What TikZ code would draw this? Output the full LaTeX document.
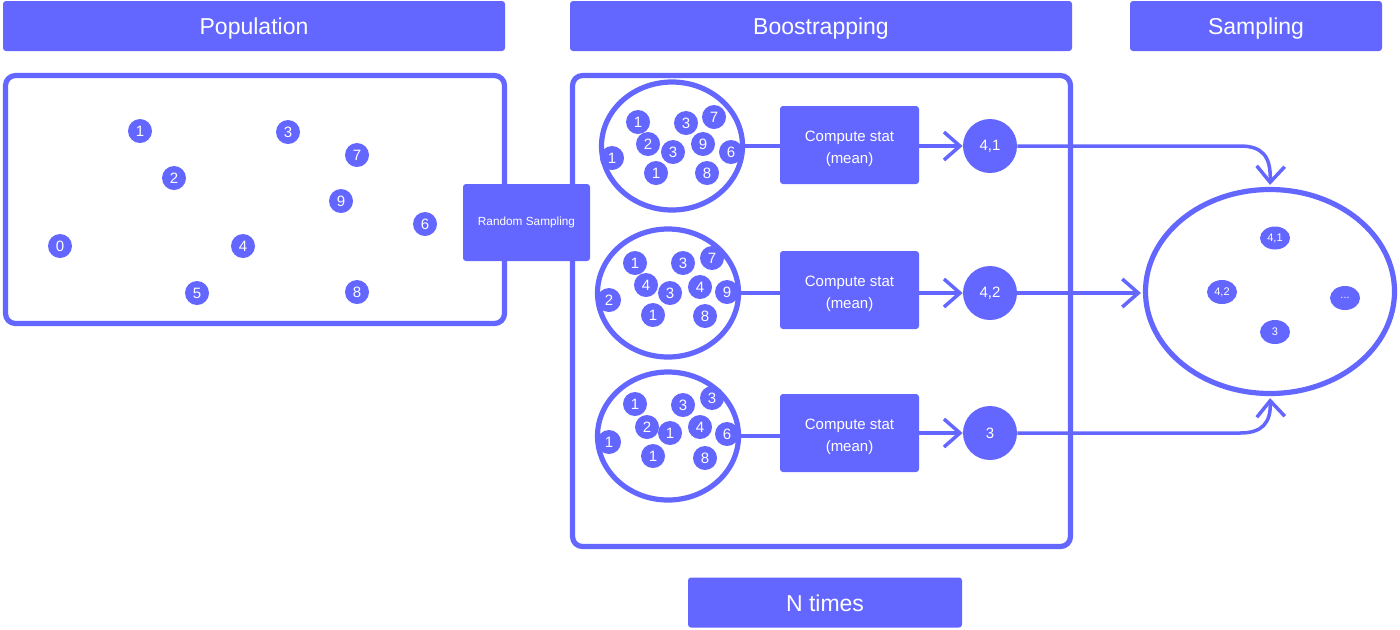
\documentclass[tikz,border=0pt]{standalone}
\usepackage{fontspec}
\setmainfont{Liberation Sans}
\usetikzlibrary{arrows.meta,shapes.geometric}
\definecolor{iris}{HTML}{6366FF}
\newcommand{\setfs}[2]{\fontsize{#1}{#2}\selectfont}

\begin{document}
\begin{tikzpicture}[x=0.5pt,y=-0.5pt,
  header/.style={fill=iris,rounded corners=1.5pt,text=white,font=\setfs{11.5pt}{13pt},minimum height=25pt,inner sep=0pt,text height=9.4pt,text depth=0.5pt},
  frame/.style={draw=iris,line width=2.6pt,rounded corners=5pt,inner sep=0pt},
  dot/.style={circle,fill=iris,text=white,minimum size=12pt,inner sep=0pt,font=\setfs{7.5pt}{8pt}},
  bag/.style={ellipse,draw=iris,line width=2.6pt,minimum width=70.5pt,minimum height=64pt,inner sep=0pt},
  stat/.style={fill=iris,rounded corners=1.5pt,text=white,minimum width=69.5pt,minimum height=39pt,align=center,font=\setfs{7.5pt}{11pt}},
  result/.style={circle,fill=iris,text=white,minimum size=27pt,inner sep=0pt,font=\setfs{7.5pt}{8pt}},
  value/.style={ellipse,fill=iris,text=white,minimum width=15pt,minimum height=11.5pt,inner sep=0pt,font=\setfs{5.5pt}{6pt}},
  link/.style={draw=iris,line width=1.75pt},
  arrow/.style={link,-{Straight Barb[length=8pt,width=14pt]}}
]
\useasboundingbox (0,0) rectangle (1400,629);

\node[header,minimum width=251pt] (hpop) at (254,26) {Population};
\node[header,minimum width=251pt] (hboot) at (821,26) {Boostrapping};
\node[header,minimum width=126pt] (hsamp) at (1256,26) {Sampling};
\node[header,minimum width=137pt] (ntimes) at (825,602.5) {N times};

\node[frame,minimum width=249.5pt,minimum height=124pt] (pop) at (255,199.5) {};
\node[frame,minimum width=249pt,minimum height=235.5pt] (boot) at (821.5,311) {};
\node[fill=iris,rounded corners=1.5pt,text=white,minimum width=63.5pt,minimum height=38.5pt,font=\setfs{5.9pt}{7pt}] (rs) at (526.5,222.5) {Random Sampling};

\foreach \n/\x/\y/\t in {p1/140/131/1, p3/288/132/3, p7/357/155/7, p2/174/178/2, p9/341/201/9,
    p6/425/224/6, p0/60/246/0, p4/243/246/4, p5/197/293/5, p8/357/292/8}
  \node[dot] (\n) at (\x,\y) {\t};

\node[bag] (bag1) at (672,146) {};
\node[bag] (bag2) at (668,293) {};
\node[bag] (bag3) at (668,436) {};

\foreach \n/\x/\y/\t in {a1/638/122/1, a2/686/123/3, a3/714/117/7, a4/648/144/2, a5/703/144/9,
    a6/673/152/3, a7/731/152/6, a8/612/158/1, a9/656/173/1, a10/707/173/8}
  \node[dot] (\n) at (\x,\y) {\t};
\foreach \n/\x/\y/\t in {b1/635/263/1, b2/683/263/3, b3/712/258/7, b4/646/285/4, b5/670/293/3,
    b6/700/287/4, b7/727/292/9, b8/609/300/2, b9/653/315/1, b10/705/316/8}
  \node[dot] (\n) at (\x,\y) {\t};
\foreach \n/\x/\y/\t in {c1/635/404/1, c2/683/405/3, c3/712/398/3, c4/647/427/2, c5/670/433/1,
    c6/700/427/4, c7/727/434/6, c8/609/442/1, c9/653/456/1, c10/705/458/8}
  \node[dot] (\n) at (\x,\y) {\t};

\node[stat] (stat1) at (849.5,145) {\rule{0pt}{9pt}Compute stat\\(mean)};
\node[stat] (stat2) at (849.5,290) {\rule{0pt}{9pt}Compute stat\\(mean)};
\node[stat] (stat3) at (849.5,433) {\rule{0pt}{9pt}Compute stat\\(mean)};

\node[result] (res1) at (990,146) {4,1};
\node[result] (res2) at (990,293) {4,2};
\node[result] (res3) at (990,433) {3};

\node[bag,minimum width=124.5pt,minimum height=102pt] (pool) at (1270,291.5) {};
\node[value] (v41) at (1275,238) {4,1};
\node[value,minimum height=12pt] (v42) at (1222,292) {4,2};
\node[value,minimum height=12pt] (vmore) at (1345,298) {...};
\node[value,minimum height=12pt] (v3) at (1275,332) {3};

\draw[link] (bag1.east) -- (bag1.east -| stat1.west);
\draw[link] (bag2.east) -- (bag2.east -| stat2.west);
\draw[link] (bag3.east) -- (bag3.east -| stat3.west);
\draw[arrow] (stat1.east |- res1) -- (res1.west);
\draw[arrow] (stat2.east |- res2) -- (res2.west);
\draw[arrow] (stat3.east |- res3) -- (res3.west);
\draw[arrow,shorten >=1pt] (res1.east) -- (1240,146) .. controls (1262,146) and (1271,156) .. (pool.north);
\draw[arrow,shorten >=1pt] (res2.east) -- (res2.east -| pool.west);
\draw[arrow,shorten >=1pt] (res3.east) -- (1240,433) .. controls (1262,433) and (1271,423) .. (pool.south);
\end{tikzpicture}
\end{document}
